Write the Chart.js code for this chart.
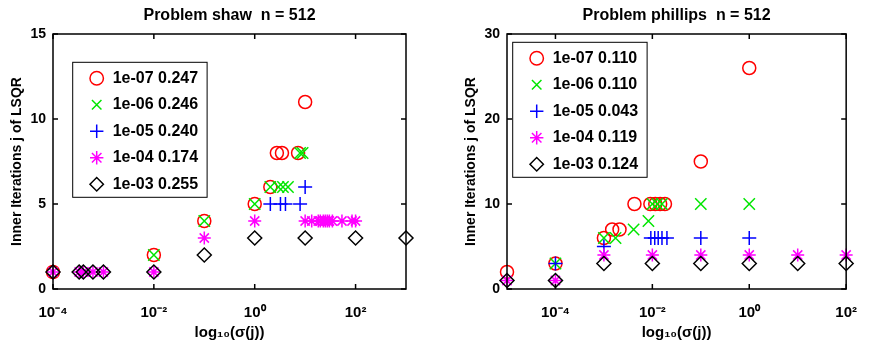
<!DOCTYPE html>
<html>
<head>
<title>LSQR inner iterations</title>
<script src="https://cdn.jsdelivr.net/npm/chart.js"></script>
<style>
    body { margin: 0; background: #fff; width: 872px; height: 342px; overflow: hidden; position: relative; }
    canvas { position: absolute; top: 0; }
    #shaw { left: 0; }
    #phillips { left: 454px; }
</style>
</head>
<body>
<canvas id="shaw" width="436" height="342"></canvas>
<canvas id="phillips" width="418" height="342"></canvas>

<script>
    // legend texts: tolerance and error
    const shawLabels = ['1e-07 0.247', '1e-06 0.246', '1e-05 0.240', '1e-04 0.174', '1e-03 0.255'];
    const phillipsLabels = ['1e-07 0.110', '1e-06 0.110', '1e-05 0.043', '1e-04 0.119', '1e-03 0.124'];

    // problem shaw: sigma(j) against inner iterations j
    const shawSigma7 = [1e-4, 1e-2, 0.1, 1, 2.04, 2.75, 3.47, 7.24, 10];
    const shawIter7  = [1, 2, 4, 5, 6, 8, 8, 8, 11];
    const shawSigma6 = [1e-2, 0.1, 1, 2.04, 2.95, 3.63, 4.57, 7.94, 8.91];
    const shawIter6  = [2, 4, 5, 6, 6, 6, 6, 8, 8];
    const shawSigma5 = [2.04, 3.24, 4.07, 7.94, 10];
    const shawIter5  = [5, 5, 5, 5, 6];
    const shawSigma4 = [1e-4, 3.3e-4, 4e-4, 6.2e-4, 1e-3, 1e-2, 0.1, 1, 10, 13.5, 18.2, 20, 22.9, 25.1, 27.5, 30.2, 34.7, 53.7, 85.1, 100];
    const shawIter4  = [1, 1, 1, 1, 1, 1, 3, 4, 4, 4, 4, 4, 4, 4, 4, 4, 4, 4, 4, 4];
    const shawSigma3 = [1e-4, 3.3e-4, 4e-4, 6.2e-4, 1e-3, 1e-2, 0.1, 1, 10, 100, 1000];
    const shawIter3  = [1, 1, 1, 1, 1, 1, 2, 3, 3, 3, 3];

    // problem phillips
    const phillipsSigma7 = [1e-5, 1e-4, 1e-3, 1.48e-3, 2.1e-3, 4.27e-3, 9.1e-3, 1.15e-2, 1.45e-2, 1.82e-2, 0.1, 1];
    const phillipsIter7  = [2, 3, 6, 7, 7, 10, 10, 10, 10, 10, 15, 26];
    const phillipsSigma6 = [1e-4, 1e-3, 1.74e-3, 4.1e-3, 8.3e-3, 1e-2, 1.26e-2, 1.58e-2, 0.1, 1];
    const phillipsIter6  = [3, 6, 6, 7, 8, 10, 10, 10, 10, 10];
    const phillipsSigma5 = [1e-4, 1e-3, 9.3e-3, 1.12e-2, 1.32e-2, 1.58e-2, 2e-2, 0.1, 1];
    const phillipsIter5  = [3, 5, 6, 6, 6, 6, 6, 6, 6];
    const phillipsSigma4 = [1e-5, 1e-4, 1e-3, 1e-2, 0.1, 1, 10, 100];
    const phillipsIter4  = [1, 1, 4, 4, 4, 4, 4, 4];
    const phillipsSigma3 = [1e-5, 1e-4, 1e-3, 1e-2, 0.1, 1, 10, 100];
    const phillipsIter3  = [1, 1, 3, 3, 3, 3, 3, 3];

    const xTicks = [1e-4, 1e-2, 1, 100];
    const xTickLabels = ['10\u207B\u2074', '10\u207B\u00B2', '10\u2070', '10\u00B2'];
    const shawYTicks = [0, 5, 10, 15];
    const phillipsYTicks = [0, 10, 20, 30];

    Chart.defaults.font.family = "'Liberation Sans', Arial, sans-serif";
    Chart.defaults.color = '#000';

    const markers = [
        { color: '#ff0000', style: 'circle', r: 6.5 },
        { color: '#00e600', style: 'crossRot', r: 8 },
        { color: '#0000ff', style: 'cross', r: 7 },
        { color: '#ff00ff', style: 'star', r: 6.5 },
        { color: '#000000', style: 'rectRot', r: 7 }
    ];

    // box with inward ticks, like the matlab axes
    const boxAxes = {
        id: 'boxAxes',
        afterDraw(chart) {
            const { ctx, chartArea: a, scales } = chart;
            ctx.save();
            ctx.strokeStyle = '#000';
            ctx.lineWidth = 1.5;
            ctx.strokeRect(a.left, a.top, a.right - a.left, a.bottom - a.top);
            ctx.beginPath();
            scales.x.ticks.forEach(t => {
                const p = scales.x.getPixelForValue(t.value);
                ctx.moveTo(p, a.bottom); ctx.lineTo(p, a.bottom - 5);
                ctx.moveTo(p, a.top); ctx.lineTo(p, a.top + 5);
            });
            scales.y.ticks.forEach(t => {
                const p = scales.y.getPixelForValue(t.value);
                ctx.moveTo(a.left, p); ctx.lineTo(a.left + 5, p);
                ctx.moveTo(a.right, p); ctx.lineTo(a.right - 5, p);
            });
            ctx.stroke();
            ctx.restore();
        }
    };

    // moves the legend to its spot and draws the frame round it
    const LEG_FONT = 16, LEG_PAD = 10.5;
    const legendFrame = {
        id: 'legendFrame',
        afterLayout(chart, args, opts) {
            const lg = chart.legend, a = chart.chartArea;
            lg.left = a.left + opts.dx - LEG_PAD - LEG_FONT / 2;
            lg.top = a.top + opts.dy - LEG_PAD - LEG_FONT / 2;
        },
        afterDraw(chart, args, opts) {
            const { ctx, chartArea: a, legend } = chart;
            const cx = a.left + opts.dx, cy = a.top + opts.dy;
            const right = Math.max(...legend.legendHitBoxes.map(b => b.left + b.width)) + 9;
            const lastY = cy + (legend.legendItems.length - 1) * (LEG_FONT + LEG_PAD);
            ctx.save();
            ctx.strokeStyle = '#000';
            ctx.lineWidth = 1;
            ctx.strokeRect(cx - 24, cy - 16, right - (cx - 24), lastY + 13 - (cy - 16));
            ctx.restore();
        }
    };

    function makeChart(id, title, labels, sigmas, iters, xMin, xMax, yTicks, padRight, legPos) {
        const datasets = labels.map((lab, i) => ({
            label: lab,
            data: sigmas[i].map((s, k) => ({ x: s, y: iters[i][k] })),
            borderColor: markers[i].color,
            backgroundColor: 'rgba(0,0,0,0)',
            pointStyle: markers[i].style,
            pointRadius: markers[i].r,
            pointHoverRadius: markers[i].r,
            pointBorderWidth: 1.5,
            borderWidth: 1.5,
            showLine: false,
            clip: false,
            order: 5 - i
        }));

        return new Chart(document.getElementById(id), {
            type: 'scatter',
            data: { datasets: datasets },
            options: {
                responsive: false,
                animation: false,
                layout: { padding: { left: 0, right: padRight, top: 0, bottom: 0 } },
                scales: {
                    x: {
                        type: 'logarithmic',
                        min: xMin,
                        max: xMax,
                        afterBuildTicks: s => { s.ticks = xTicks.map(v => ({ value: v })); },
                        afterFit: s => { s.height = 53; },
                        grid: { display: false, drawTicks: false },
                        border: { display: false },
                        ticks: {
                            autoSkip: false,
                            maxRotation: 0,
                            padding: 15,
                            font: { size: 15, weight: 'bold' },
                            callback: (v, i) => xTickLabels[i]
                        },
                        title: {
                            display: true,
                            text: 'log\u2081\u2080(\u03C3(j))',
                            font: { size: 15, weight: 'bold' },
                            padding: { top: 0, bottom: 0 }
                        }
                    },
                    y: {
                        min: yTicks[0],
                        max: yTicks[yTicks.length - 1],
                        afterBuildTicks: s => { s.ticks = yTicks.map(v => ({ value: v })); },
                        afterFit: s => { s.width = 53; },
                        grid: { display: false, drawTicks: false },
                        border: { display: false },
                        ticks: { padding: 7, font: { size: 14, weight: 'bold' } },
                        title: {
                            display: true,
                            text: 'Inner Iterations j of LSQR',
                            font: { size: 14, weight: 'bold' },
                            padding: { top: 9, bottom: 0 }
                        }
                    }
                },
                plugins: {
                    title: {
                        display: true,
                        text: title,
                        fullSize: false,
                        font: { size: 16, weight: 'bold' },
                        padding: { top: 6, bottom: 8.8 }
                    },
                    legend: {
                        position: 'chartArea',
                        align: 'start',
                        fullSize: false,
                        labels: {
                            usePointStyle: true,
                            boxHeight: 9.5,
                            padding: LEG_PAD,
                            font: { size: LEG_FONT, weight: 'bold' },
                            sort: (a, b) => a.datasetIndex - b.datasetIndex
                        }
                    },
                    tooltip: { enabled: false },
                    legendFrame: legPos
                }
            },
            plugins: [boxAxes, legendFrame]
        });
    }

    makeChart('shaw', 'Problem shaw  n = 512', shawLabels,
        [shawSigma7, shawSigma6, shawSigma5, shawSigma4, shawSigma3],
        [shawIter7, shawIter6, shawIter5, shawIter4, shawIter3],
        1e-4, 1e3, shawYTicks, 30, { dx: 43.7, dy: 44.3 });

    makeChart('phillips', 'Problem phillips  n = 512', phillipsLabels,
        [phillipsSigma7, phillipsSigma6, phillipsSigma5, phillipsSigma4, phillipsSigma3],
        [phillipsIter7, phillipsIter6, phillipsIter5, phillipsIter4, phillipsIter3],
        1e-5, 1e2, phillipsYTicks, 12, { dx: 29.7, dy: 24.3 });
</script>
</body>
</html>
